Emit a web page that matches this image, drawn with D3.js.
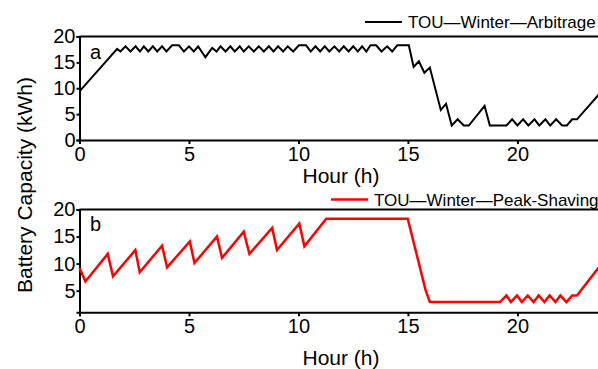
<!DOCTYPE html>
<html>
<head>
<meta charset="utf-8">
<script src="https://cdn.jsdelivr.net/npm/d3@7"></script>
<style>
  body { margin: 0; background: #fff; }
  svg { display: block; font-family: Arial, 'Liberation Sans', sans-serif; }
  .axis path, .axis line { stroke: #000; stroke-width: 2; }
  .axis text { font-size: 20px; fill: #000; }
</style>
</head>
<body>
<div id="chart"></div>
<script>
// Panel a: TOU / Winter / Arbitrage (hours, kWh)
const hoursA = [0, 1.72, 1.87, 2.10, 2.33, 2.56, 2.76, 2.94, 3.14, 3.35, 3.55, 3.77, 3.97, 4.23, 4.54,
  4.77, 5.00, 5.22, 5.42, 5.75, 6.06, 6.26, 6.44, 6.67, 6.89, 7.09, 7.32, 7.50, 7.73, 7.96, 8.19,
  8.42, 8.65, 8.86, 9.07, 9.30, 9.51, 9.76, 10.02, 10.35, 10.56, 10.78, 10.99, 11.20, 11.41, 11.64,
  11.86, 12.07, 12.29, 12.50, 12.71, 12.91, 13.10, 13.29, 13.55, 13.79, 14.05, 14.28, 14.51, 15.04,
  15.26, 15.50, 15.75, 16.00, 16.50, 16.74, 17.00, 17.27, 17.55, 17.78, 18.50, 18.74, 19.50, 19.76,
  20.00, 20.26, 20.50, 20.78, 21.00, 21.28, 21.50, 21.77, 22.04, 22.26, 22.50, 22.72, 23.70, 24.00];
const socA = [9.4, 17.6, 17.1, 18.1, 17.1, 18.1, 17.1, 18.1, 17.1, 18.1, 17.1, 18.1, 17.1, 18.3, 18.3,
  17.1, 18.1, 17.1, 18.1, 16.0, 17.8, 17.1, 18.1, 17.1, 18.1, 17.1, 18.1, 17.1, 18.1, 17.1, 18.1,
  17.1, 18.1, 17.1, 18.1, 17.1, 18.1, 17.1, 18.3, 18.3, 17.1, 18.1, 17.1, 18.1, 17.1, 18.1,
  17.1, 18.1, 17.1, 18.1, 17.1, 18.1, 17.1, 18.3, 18.3, 17.1, 18.1, 17.1, 18.3, 18.3,
  14.1, 15.2, 13.0, 14.0, 5.8, 7.0, 2.8, 4.0, 2.8, 2.8, 6.6, 2.8, 2.8, 4.0,
  2.8, 4.0, 2.8, 4.0, 2.8, 4.0, 2.8, 4.0, 2.8, 2.8, 4.0, 4.0, 8.7, 10.0];

// Panel b: TOU / Winter / Peak-Shaving
const hoursB = [0, 0.27, 1.29, 1.53, 2.55, 2.75, 3.77, 4.00, 5.04, 5.25, 6.28, 6.51, 7.50, 7.76,
  8.80, 9.02, 10.04, 10.27, 11.27, 14.99, 15.80, 16.00, 19.20, 19.50, 19.70, 19.98, 20.20, 20.47,
  20.74, 20.97, 21.23, 21.47, 21.74, 21.96, 22.24, 22.50, 22.72, 23.70, 24.00];
const socB = [9.2, 6.7, 11.8, 7.65, 12.5, 8.4, 13.3, 9.3, 14.1, 10.1, 15.0, 11.05, 15.9, 11.8,
  16.6, 12.5, 17.4, 13.2, 18.3, 18.3, 5.2, 2.9, 2.9, 4.1, 2.9, 4.1, 2.9, 4.1,
  2.9, 4.1, 2.9, 4.1, 2.9, 4.1, 2.9, 4.1, 4.1, 9.2, 10.3];

const xTicks = [0, 5, 10, 15, 20];
const yTicksA = [0, 5, 10, 15, 20];
const yTicksB = [5, 10, 15, 20];
const legendA = 'TOU\u2014Winter\u2014Arbitrage';
const legendB = 'TOU\u2014Winter\u2014Peak-Shaving';

const width = 598, height = 369;

const svg = d3.select('#chart').append('svg')
  .attr('width', width)
  .attr('height', height);

const x = d3.scaleLinear().domain([0, 24]).range([79.5, 605]);

function panel(opts) {
  const y = d3.scaleLinear().domain(opts.yDomain).range([opts.bottom, opts.top]);
  const g = svg.append('g');

  // frame top / right
  g.append('path')
    .attr('d', `M${x(0)},${opts.top}H${x(24)}V${opts.bottom}`)
    .attr('fill', 'none')
    .attr('stroke', '#000')
    .attr('stroke-width', 2);

  g.append('g')
    .attr('class', 'axis')
    .attr('transform', 'translate(0,' + opts.bottom + ')')
    .call(d3.axisBottom(x).tickValues(xTicks).tickSizeOuter(0).tickSize(4).tickPadding(3));

  g.append('g')
    .attr('class', 'axis')
    .attr('transform', 'translate(' + x(0) + ',0)')
    .call(d3.axisLeft(y).tickValues(opts.yTicks).tickSizeOuter(0).tickSize(3).tickPadding(1));

  const line = d3.line()
    .x((d, i) => x(opts.hours[i]))
    .y(d => y(d));

  g.append('path')
    .attr('d', line(opts.values))
    .attr('fill', 'none')
    .attr('stroke', opts.color)
    .attr('stroke-width', opts.lw)
    .attr('stroke-linejoin', 'miter');

  // panel letter
  g.append('text')
    .attr('x', 90).attr('y', opts.letterY)
    .style('font-size', '20px')
    .text(opts.letter);

  // x label
  g.append('text')
    .attr('x', 341).attr('y', opts.xLabelY)
    .attr('text-anchor', 'middle')
    .style('font-size', '21px')
    .text('Hour (h)');

  // legend
  g.append('line')
    .attr('x1', opts.legX).attr('x2', opts.legX + 37)
    .attr('y1', opts.legY).attr('y2', opts.legY)
    .attr('stroke', opts.color)
    .attr('stroke-width', opts.lw);
  g.append('text')
    .attr('x', opts.legX + 43).attr('y', opts.legY + 6)
    .style('font-size', '17px')
    .text(opts.legend);
}

panel({
  top: 36.5, bottom: 140, yDomain: [0, 20], yTicks: yTicksA,
  hours: hoursA, values: socA, color: '#000', lw: 2,
  letter: 'a', letterY: 58.5, xLabelY: 183,
  legX: 365, legY: 22, legend: legendA
});

panel({
  top: 209.5, bottom: 312.3, yDomain: [1, 20], yTicks: yTicksB,
  hours: hoursB, values: socB, color: '#ff0000', lw: 2.5,
  letter: 'b', letterY: 231, xLabelY: 365,
  legX: 331, legY: 199.5, legend: legendB
});

// shared y label
svg.append('text')
  .attr('transform', 'translate(32,185) rotate(-90)')
  .attr('text-anchor', 'middle')
  .style('font-size', '21px')
  .text('Battery Capacity (kWh)');
</script>
</body>
</html>
